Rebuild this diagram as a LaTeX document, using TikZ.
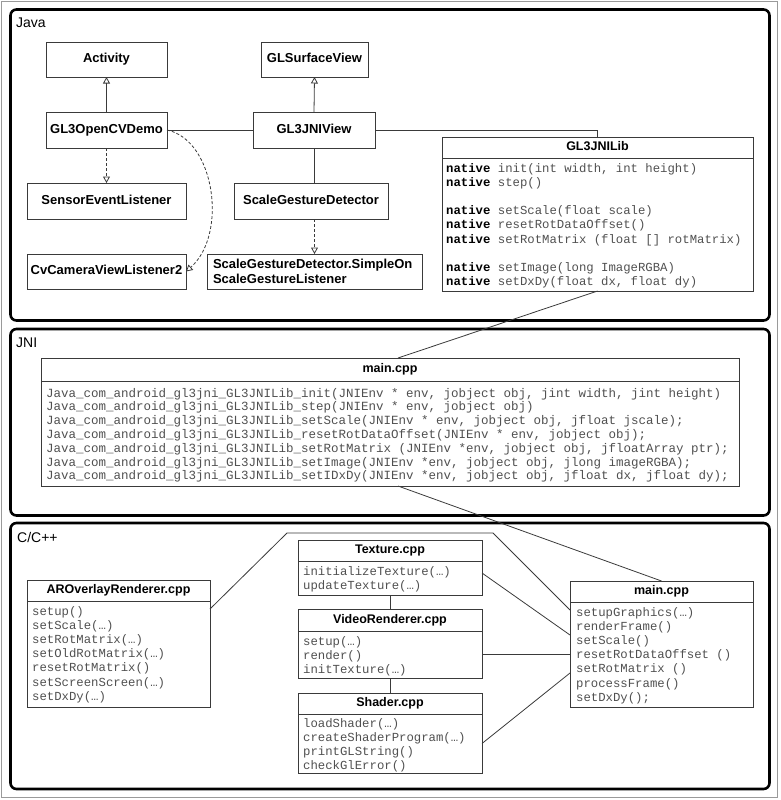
\documentclass[tikz,border=0pt]{standalone}
\usepackage{fontspec}
\setmainfont{Liberation Sans}
\newfontfamily\monof{Liberation Mono}
\usetikzlibrary{arrows.meta,calc}
\definecolor{boxc}{HTML}{3A3A3A}
\definecolor{txtc}{HTML}{505050}
\definecolor{framec}{HTML}{9A9A9A}
\newcommand\natv{\textcolor{black}{\bfseries native}}
\begin{document}
\begin{tikzpicture}[x=1pt,y=-1pt,
 panel/.style={draw=black, line width=2.6pt, rounded corners=6pt},
 boxbase/.style={draw=boxc, line width=0.9pt, anchor=north west, inner sep=0pt, outer sep=0pt, font=\fontsize{12.5}{15}\selectfont\bfseries},
 box/.style={boxbase, text height=9pt, text depth=2.5pt},
 jbox/.style={box, font=\fontsize{13}{15}\selectfont\bfseries},
 mline/.style={anchor=base west, inner sep=0pt, font=\monof\fontsize{12.3}{14.2}\selectfont, text=txtc},
 jline/.style={mline, font=\monof\fontsize{12.5}{13.8}\selectfont},
 conn/.style={draw=boxc, line width=0.8pt},
 inh/.style={conn, -{Triangle[open, length=6.5pt, width=7pt]}},
 dep/.style={inh, dash pattern=on 3pt off 2pt},
 plabel/.style={anchor=base west, inner sep=0pt, font=\fontsize{14}{16}\selectfont},
]
\useasboundingbox (0,0) rectangle (780,800);
\draw[framec, line width=0.8pt] (1.5,1.5) rectangle (777.5,797.5);

% panels
\draw[panel] (10.5,9.5) rectangle (769.5,320.5);
\draw[panel] (10.5,329) rectangle (769.5,515.5);
\draw[panel] (10.5,523) rectangle (769.5,789);
\node[plabel] (javaL) at (16,28) {Java};
\node[plabel] (jniL) at (16,347) {JNI};
\node[plabel] (cppL) at (17,542) {C/C++};

% Java boxes
\node[jbox, minimum width=121pt, minimum height=35pt] (act) at (46,42) {Activity};
\node[jbox, minimum width=107pt, minimum height=35pt] (gsv) at (261,42) {GLSurfaceView};
\node[jbox, minimum width=121pt, minimum height=36pt] (ocv) at (46,112) {GL3OpenCVDemo};
\node[jbox, minimum width=122pt, minimum height=36pt] (jv) at (253,112) {GL3JNIView};
\node[jbox, minimum width=159pt, minimum height=36pt] (sel) at (27,183) {SensorEventListener};
\node[jbox, minimum width=154pt, minimum height=36pt] (sgd) at (234,183) {ScaleGestureDetector};
\node[jbox, minimum width=159pt, minimum height=35pt] (cvl) at (27,254) {CvCameraViewListener2};
\node[boxbase, font=\fontsize{13}{15.5}\selectfont\bfseries, minimum width=215pt, minimum height=35pt, align=left, text width=203pt, inner xsep=6pt] (so) at (207,254) {ScaleGestureDetector.SimpleOn\\ScaleGestureListener};

% GL3JNILib
\node[box, minimum width=311pt, minimum height=21pt] (libT) at (442,137) {GL3JNILib};
\node[boxbase, minimum width=311pt, minimum height=133pt] (libB) at (libT.south west) {};
\foreach \t [count=\i from 0] in {{\natv{} init(int width, int height)},{\natv{} step()},{},{\natv{} setScale(float scale)},{\natv{} resetRotDataOffset()},{\natv{} setRotMatrix (float [] rotMatrix)},{},{\natv{} setImage(long ImageRGBA)},{\natv{} setDxDy(float dx, float dy)}}
  \node[mline, name=lib\i] at (446,172+14.2*\i) {\t};

% JNI main.cpp
\node[box, minimum width=698pt, minimum height=23pt] (jniT) at (41,358) {main.cpp};
\node[boxbase, minimum width=698pt, minimum height=105pt] (jniB) at (jniT.south west) {};
\foreach \t [count=\i from 0] in {
 {Java\_com\_android\_gl3jni\_GL3JNILib\_init(JNIEnv * env, jobject obj, jint width, jint height)},
 {Java\_com\_android\_gl3jni\_GL3JNILib\_step(JNIEnv * env, jobject obj)},
 {Java\_com\_android\_gl3jni\_GL3JNILib\_setScale(JNIEnv * env, jobject obj, jfloat jscale);},
 {Java\_com\_android\_gl3jni\_GL3JNILib\_resetRotDataOffset(JNIEnv * env, jobject obj);},
 {Java\_com\_android\_gl3jni\_GL3JNILib\_setRotMatrix (JNIEnv *env, jobject obj, jfloatArray ptr);},
 {Java\_com\_android\_gl3jni\_GL3JNILib\_setImage(JNIEnv *env, jobject obj, jlong imageRGBA);},
 {Java\_com\_android\_gl3jni\_GL3JNILib\_setIDxDy(JNIEnv *env, jobject obj, jfloat dx, jfloat dy);}}
  \node[jline, name=jni\i] at (46,397+13.8*\i) {\t};

% C/C++ boxes
\node[box, minimum width=183pt, minimum height=21pt] (arT) at (27,580) {AROverlayRenderer.cpp};
\node[boxbase, minimum width=183pt, minimum height=106pt] (arB) at (arT.south west) {};
\foreach \t [count=\i from 0] in {setup(),setScale(…),setRotMatrix(…),setOldRotMatrix(…),resetRotMatrix(),setScreenScreen(…),setDxDy(…)}
  \node[mline, name=ar\i] at (32,615+14.2*\i) {\t};

\node[box, minimum width=184pt, minimum height=21pt] (txT) at (298,540) {Texture.cpp};
\node[boxbase, minimum width=184pt, minimum height=34pt] (txB) at (txT.south west) {};
\foreach \t [count=\i from 0] in {initializeTexture(…),updateTexture(…)}
  \node[mline, name=tx\i] at (303,575+14.2*\i) {\t};

\node[box, minimum width=184pt, minimum height=22pt] (vrT) at (298,609) {VideoRenderer.cpp};
\node[boxbase, minimum width=184pt, minimum height=47pt] (vrB) at (vrT.south west) {};
\foreach \t [count=\i from 0] in {setup(…),render(),initTexture(…)}
  \node[mline, name=vr\i] at (303,645+14.2*\i) {\t};

\node[box, minimum width=184pt, minimum height=21pt] (shT) at (298,693) {Shader.cpp};
\node[boxbase, minimum width=184pt, minimum height=59pt] (shB) at (shT.south west) {};
\foreach \t [count=\i from 0] in {loadShader(…),createShaderProgram(…),printGLString(),checkGlError()}
  \node[mline, name=sh\i] at (303,727+14.2*\i) {\t};

\node[box, minimum width=183pt, minimum height=21pt] (cmT) at (570,581) {main.cpp};
\node[boxbase, minimum width=183pt, minimum height=105pt] (cmB) at (cmT.south west) {};
\foreach \t [count=\i from 0] in {setupGraphics(…),renderFrame(),setScale(),resetRotDataOffset (),setRotMatrix (),processFrame(),setDxDy();}
  \node[mline, name=cm\i] at (576,616+14.2*\i) {\t};

% Java connectors
\draw[inh] (ocv.north) -- (act.south);
\draw[inh] (jv.north) -- (gsv.south);
\draw[dep] (ocv.south) -- (sel.north);
\draw[conn] (jv.south) -- (jv.south |- sgd.north);
\draw[dep] (so.north |- sgd.south) -- (so.north);
\draw[conn] (ocv.east) -- (jv.west);
\draw[conn] (jv.east) -| (libT.north);
\draw[dep] (ocv.east) .. controls +(48,10) and +(42,-37) .. (cvl.east);

% cross-layer connectors
\draw[conn] (libB.south) -- ([xshift=8pt]jniT.north);
\draw[conn] ([xshift=8pt]jniB.south) -- (cmT.north);

% C/C++ connectors
\coordinate (a1) at (287,533);
\coordinate (a2) at (493,533);
\draw[conn] ([yshift=-8pt]arB.north east) -- (a1) -- (a2) -- ([yshift=-8pt]cmB.north west);
\draw[conn] ([yshift=5pt]txB.east) -- ([yshift=19.5pt]cmB.west);
\draw[conn] (vrB.east) -- (vrB.east -| cmB.west);
\draw[conn] (shB.east) -- ([yshift=-18.5pt]cmB.west);
\draw[conn] (txB.south) -- (vrT.north);
\draw[conn] (vrB.south) -- (shT.north);
\end{tikzpicture}
\end{document}
